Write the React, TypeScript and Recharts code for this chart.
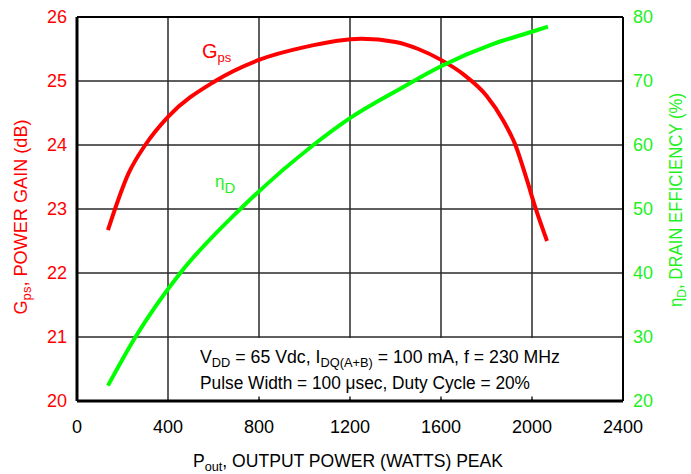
import {
  LineChart,
  Line,
  XAxis,
  YAxis,
  CartesianGrid,
  ReferenceArea,
  ReferenceLine,
  ReferenceDot,
} from 'recharts';

const FONT = '"Liberation Sans", Arial, Helvetica, sans-serif';
const RED = '#ff0000';
const GREEN = '#00ff00';
const GREEN_TEXT = '#1ef01e';

// axis ticks
const powerTicks = [0, 400, 800, 1200, 1600, 2000, 2400];
const gainTicks = [20, 21, 22, 23, 24, 25, 26];
const effTicks = [20, 30, 40, 50, 60, 70, 80];
const innerTicks = [800, 1200, 1600, 2000];

// Gps (dB) vs Pout (W)
const gainPout = [136, 227, 300, 400, 608, 800, 1000, 1250, 1400, 1500, 1600, 1700, 1800, 1874, 1927, 1978, 2015, 2066];
const gainDb = [22.67, 23.56, 24.0, 24.44, 25.0, 25.33, 25.53, 25.66, 25.61, 25.5, 25.33, 25.1, 24.77, 24.38, 24.0, 23.45, 23.02, 22.5];

// drain efficiency (%) vs Pout (W)
const effPout = [136, 257, 454, 718, 1039, 1200, 1421, 1600, 1830, 2000, 2070];
const effPct = [22.4, 30, 40, 50, 60, 64.2, 68.8, 72.3, 75.8, 77.7, 78.5];

const gainData = gainPout.map((p, i) => ({ p, g: gainDb[i] }));
const effData = effPout.map((p, i) => ({ p, e: effPct[i] }));

const gainTitle = () => (
  <text
    x={27}
    y={217}
    transform="rotate(-90 27 217)"
    textAnchor="middle"
    fill={RED}
    fontSize={18}
    fontFamily={FONT}
    textLength={195}
    lengthAdjust="spacingAndGlyphs"
  >
    G<tspan dy={4} fontSize={13}>ps</tspan>
    <tspan dy={-4}>, POWER GAIN (dB)</tspan>
  </text>
);

const effTitle = () => (
  <text
    x={682}
    y={200}
    transform="rotate(-90 682 200)"
    textAnchor="middle"
    fill={GREEN_TEXT}
    fontSize={18}
    fontFamily={FONT}
    textLength={214}
    lengthAdjust="spacingAndGlyphs"
  >
    η<tspan dy={4} fontSize={13}>D</tspan>
    <tspan dy={-4}>, DRAIN EFFICIENCY (%)</tspan>
  </text>
);

const powerTitle = () => (
  <text
    x={193}
    y={467}
    fill="#000"
    fontSize={18}
    fontFamily={FONT}
    textLength={310}
    lengthAdjust="spacingAndGlyphs"
  >
    P<tspan dy={4} fontSize={13}>out</tspan>
    <tspan dy={-4}>, OUTPUT POWER (WATTS) PEAK</tspan>
  </text>
);

const conditions = () => (
  <g fontFamily={FONT} fontSize={18} fill="#000">
    <text x={200} y={363} textLength={360} lengthAdjust="spacingAndGlyphs">
      V<tspan dy={4} fontSize={13}>DD</tspan>
      <tspan dy={-4}> = 65 Vdc, I</tspan>
      <tspan dy={4} fontSize={13}>DQ(A+B)</tspan>
      <tspan dy={-4}> = 100 mA, f = 230 MHz</tspan>
    </text>
    <text x={200} y={389} textLength={330} lengthAdjust="spacingAndGlyphs">
      Pulse Width = 100 μsec, Duty Cycle = 20%
    </text>
  </g>
);

const gainTag = (props: any) => {
  const vb = props.viewBox || {};
  return (
    <text x={vb.x} y={vb.y} fill={RED} fontSize={20} fontFamily={FONT}>
      G<tspan dy={4} fontSize={13}>ps</tspan>
    </text>
  );
};

const effTag = (props: any) => {
  const vb = props.viewBox || {};
  return (
    <text x={vb.x} y={vb.y} fill={GREEN_TEXT} fontSize={17} fontFamily={FONT}>
      η<tspan dy={6} fontSize={15}>D</tspan>
    </text>
  );
};

export default function App() {
  return (
    <div style={{ position: 'absolute', left: 0, top: 0, background: '#fff' }}>
      <LineChart width={691} height={474} margin={{ top: 17, right: 0, bottom: 0, left: 0 }}>
        <CartesianGrid yAxisId="g" stroke="#2a2a2a" strokeWidth={1.5} />
        <XAxis
          dataKey="p"
          type="number"
          domain={[0, 2400]}
          ticks={powerTicks}
          interval={0}
          height={73}
          tickSize={0}
          tickMargin={19}
          tickLine={false}
          axisLine={{ stroke: '#000', strokeWidth: 3 }}
          tick={{ fill: '#000', fontSize: 18, fontFamily: FONT }}
          label={powerTitle}
          allowDataOverflow
        />
        <YAxis
          yAxisId="g"
          orientation="left"
          domain={[20, 26]}
          ticks={gainTicks}
          interval={0}
          width={77}
          tickSize={0}
          tickMargin={10}
          tickLine={false}
          axisLine={{ stroke: '#000', strokeWidth: 3 }}
          tick={{ fill: RED, fontSize: 18, fontFamily: FONT }}
          label={gainTitle}
          allowDataOverflow
        />
        <YAxis
          yAxisId="e"
          orientation="right"
          domain={[20, 80]}
          ticks={effTicks}
          interval={0}
          width={68}
          tickSize={0}
          tickMargin={10}
          tickLine={false}
          axisLine={{ stroke: '#000', strokeWidth: 2 }}
          tick={{ fill: GREEN_TEXT, fontSize: 18, fontFamily: FONT }}
          label={effTitle}
          allowDataOverflow
        />
        <ReferenceArea
          yAxisId="g"
          x1={480}
          x2={2396}
          y1={20.03}
          y2={20.985}
          fill="#fff"
          fillOpacity={1}
          stroke="none"
          label={conditions}
        />
        {innerTicks.map((t) => (
          <ReferenceLine
            key={t}
            yAxisId="g"
            segment={[
              { x: t, y: 20 },
              { x: t, y: 20.07 },
            ]}
            stroke="#2a2a2a"
            strokeWidth={1.5}
          />
        ))}
        <ReferenceLine yAxisId="g" y={26} stroke="#000" strokeWidth={2} />
        <Line
          yAxisId="g"
          data={gainData}
          dataKey="g"
          type="monotone"
          stroke={RED}
          strokeWidth={4}
          dot={false}
          isAnimationActive={false}
        />
        <Line
          yAxisId="e"
          data={effData}
          dataKey="e"
          type="monotone"
          stroke={GREEN}
          strokeWidth={4}
          dot={false}
          isAnimationActive={false}
        />
        <ReferenceDot yAxisId="g" x={549} y={25.36} r={0} fill="none" stroke="none" label={gainTag} />
        <ReferenceDot yAxisId="e" x={607} y={53.44} r={0} fill="none" stroke="none" label={effTag} />
      </LineChart>
    </div>
  );
}
